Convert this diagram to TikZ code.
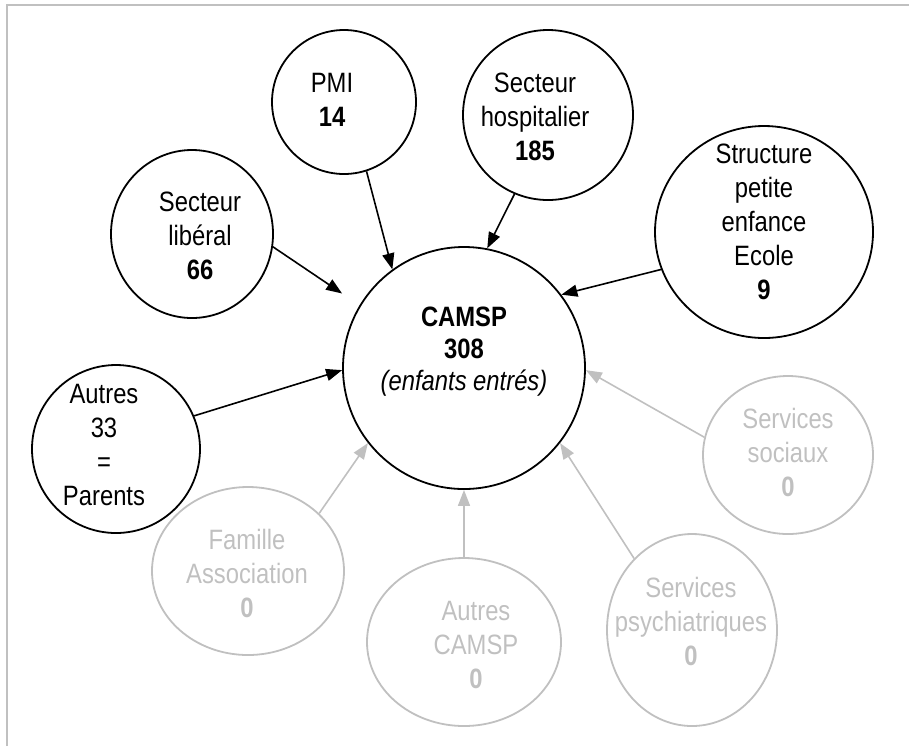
\documentclass[tikz,border=0pt]{standalone}
\usepackage{fontspec}
\setmainfont{Liberation Sans}[FakeStretch=0.85]
\usepackage{tikz}
\usetikzlibrary{arrows.meta, shapes.geometric}

\definecolor{grisclair}{RGB}{192,192,192}
\tikzset{
  cercle/.style={draw, ellipse, line width=0.9pt, inner sep=0pt},
  cerclevide/.style={cercle, draw=grisclair},
  texte/.style={inner sep=0pt, align=center, font=\fontsize{14pt}{17pt}\selectfont},
  textevide/.style={texte, text=grisclair},
  fleche/.style={-{Triangle[length=8pt,width=6pt]}, line width=0.8pt},
  flechevide/.style={fleche, grisclair}
}

\begin{document}
\begin{tikzpicture}[x=0.5pt, y=-0.5pt]
\useasboundingbox (0,0) rectangle (909,746);
% cadre
\draw[grisclair, line width=1pt] (6.5,746) -- (6.5,5) -- (909,5);

% centre
\node[cercle, minimum width=121pt, minimum height=121pt] (camsp) at (464,368) {};
\node[texte, font=\fontsize{14pt}{16pt}\selectfont] (t-camsp) at (464,352) {\textbf{CAMSP}\\\textbf{308}\\\textit{(enfants entrés)}};

% origines avec entrees
\node[cercle, minimum width=72pt, minimum height=72pt] (pmi) at (344,102) {};
\node[texte] (t-pmi) at (332,100) {PMI\\\textbf{14}};
\node[cercle, minimum width=85pt, minimum height=85pt] (hosp) at (548,115) {};
\node[texte] (t-hosp) at (535,117) {Secteur\\hospitalier\\\textbf{185}};
\node[cercle, minimum width=81pt, minimum height=84pt] (liberal) at (192,234) {};
\node[texte] (t-liberal) at (200,236) {Secteur\\libéral\\\textbf{66}};
\node[cercle, minimum width=109pt, minimum height=106pt] (structure) at (764,232) {};
\node[texte] (t-structure) at (764,222) {Structure\\petite\\enfance\\Ecole\\\textbf{9}};
\node[cercle, minimum width=84pt, minimum height=84pt] (autres) at (116,449) {};
\node[texte] (t-autres) at (104,445) {Autres\\33\\=\\Parents};

% origines sans entree
\node[cerclevide, minimum width=96pt, minimum height=84pt] (famille) at (248,571) {};
\node[textevide] (t-famille) at (247,573) {Famille\\Association\\\textbf{0}};
\node[cerclevide, minimum width=97pt, minimum height=84pt] (autrescamsp) at (464,642) {};
\node[textevide] (t-autrescamsp) at (476,645) {Autres\\CAMSP\\\textbf{0}};
\node[cerclevide, minimum width=85pt, minimum height=96pt] (psy) at (692,630) {};
\node[textevide] (t-psy) at (691,621) {Services\\psychiatriques\\\textbf{0}};
\node[cerclevide, minimum width=85pt, minimum height=79pt] (sociaux) at (788,455) {};
\node[textevide] (t-sociaux) at (788,452) {Services\\sociaux\\\textbf{0}};

% fleches
\draw[fleche] (pmi.-72) -- (camsp.126);
\draw[fleche] (hosp.-113) -- (camsp.79);
\draw[fleche] (structure.-160) -- (camsp.37);
\draw[fleche, shorten >=10.5pt] (liberal.-9) -- (camsp.149);
\draw[fleche] (autres.23) -- (camsp.181);
\draw[flechevide] (famille.39) -- (camsp.-142);
\draw[flechevide] (autrescamsp.north) -- (camsp.south);
\draw[flechevide] (psy.129) -- (camsp.-38);
\draw[flechevide] (sociaux.168) -- (camsp.-1);
\end{tikzpicture}
\end{document}
